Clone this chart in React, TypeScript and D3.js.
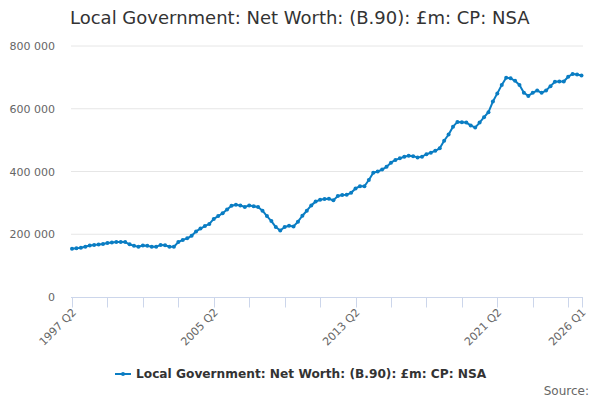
import { useEffect, useRef } from "react";
import * as d3 from "d3";

const TITLE = "Local Government: Net Worth: (B.90): £m: CP: NSA";

// £m, one point per quarter from 1997 Q2 to 2026 Q1
const netWorth = [
  154000, 155000, 157000, 160000, 164000, 166000, 167000, 169000, 172000, 174000,
  175000, 175000, 175000, 168000, 163000, 160000, 164000, 163000, 160000, 160000,
  166000, 165000, 160000, 160000, 175000, 182000, 187000, 195000, 209000, 218000,
  226000, 233000, 249000, 258000, 267000, 279000, 291000, 294000, 292000, 287000,
  292000, 289000, 287000, 275000, 258000, 242000, 223000, 212000, 223000, 227000,
  225000, 240000, 259000, 275000, 292000, 304000, 310000, 312000, 313000, 308000,
  322000, 325000, 326000, 332000, 346000, 353000, 353000, 373000, 396000, 400000,
  406000, 415000, 428000, 437000, 442000, 447000, 450000, 449000, 445000, 447000,
  455000, 460000, 466000, 474000, 498000, 518000, 543000, 558000, 557000, 556000,
  547000, 540000, 556000, 573000, 589000, 623000, 649000, 676000, 699000, 697000,
  689000, 676000, 651000, 641000, 651000, 658000, 651000, 658000, 672000, 686000,
  687000, 687000, 702000, 711000, 709000, 706000,
];

const quarters: string[] = [];
for (let i = 0; i < netWorth.length; i++) {
  const q = 1 + i; // 1997 Q2 is the first
  quarters.push(`${1997 + Math.floor(q / 4)} Q${(q % 4) + 1}`);
}

const yTicks = [0, 200000, 400000, 600000, 800000];
const xLabels = ["1997 Q2", "2005 Q2", "2013 Q2", "2021 Q2", "2026 Q1"];

const font = "'DejaVu Sans', sans-serif";
const lineColor = "#0a7dc3";

const App = () => {
  const ref = useRef<SVGSVGElement | null>(null);

  useEffect(() => {
    const svg = d3.select(ref.current);
    svg.selectAll("*").remove();

    const x = d3
      .scaleLinear()
      .domain([0, quarters.length - 1])
      .range([72, 581.5]);
    const y = d3.scaleLinear().domain([0, 800000]).range([297, 46]);

    svg
      .append("text")
      .attr("x", 70)
      .attr("y", 24)
      .attr("fill", "#333333")
      .style("font-size", "18px")
      .style("font-family", font)
      .text(TITLE);

    // grid + y labels
    const grid = svg.append("g");
    yTicks.forEach((t) => {
      if (t > 0) {
        grid
          .append("line")
          .attr("x1", 71)
          .attr("x2", 583)
          .attr("y1", y(t))
          .attr("y2", y(t))
          .attr("stroke", "#e6e6e6")
          .attr("stroke-width", 1);
      }
      grid
        .append("text")
        .attr("x", 55)
        .attr("y", y(t) + 4)
        .attr("text-anchor", "end")
        .attr("fill", "#666666")
        .style("font-size", "11px")
        .style("font-family", font)
        .text(d3.format(",")(t).replace(/,/g, " "));
    });

    // x axis
    const axis = svg.append("g");
    axis
      .append("line")
      .attr("x1", 71)
      .attr("x2", 583)
      .attr("y1", 297.5)
      .attr("y2", 297.5)
      .attr("stroke", "#ccd6eb");
    const tickIdx = d3.range(0, quarters.length, 8).concat([quarters.length - 1]);
    tickIdx.forEach((i) => {
      axis
        .append("line")
        .attr("x1", Math.round(x(i)) + 0.5)
        .attr("x2", Math.round(x(i)) + 0.5)
        .attr("y1", 297.5)
        .attr("y2", 307.5)
        .attr("stroke", "#ccd6eb");
    });
    xLabels.forEach((lab) => {
      const i = quarters.indexOf(lab);
      const px = x(i) + 5;
      const py = 313;
      axis
        .append("text")
        .attr("transform", `translate(${px},${py}) rotate(-45)`)
        .attr("text-anchor", "end")
        .attr("fill", "#666666")
        .style("font-size", "11px")
        .style("font-family", font)
        .text(lab);
    });

    // series
    const line = d3
      .line<number>()
      .x((_, i) => x(i))
      .y((d) => y(d));
    svg
      .append("path")
      .attr("d", line(netWorth) as string)
      .attr("fill", "none")
      .attr("stroke", lineColor)
      .attr("stroke-width", 2)
      .attr("stroke-linejoin", "round");
    svg
      .append("g")
      .selectAll("circle")
      .data(netWorth)
      .enter()
      .append("circle")
      .attr("cx", (_, i) => x(i))
      .attr("cy", (d) => y(d))
      .attr("r", 2)
      .attr("fill", lineColor);

    // legend
    const legend = svg.append("g");
    legend
      .append("line")
      .attr("x1", 115)
      .attr("x2", 131)
      .attr("y1", 374)
      .attr("y2", 374)
      .attr("stroke", lineColor)
      .attr("stroke-width", 2);
    legend
      .append("circle")
      .attr("cx", 123)
      .attr("cy", 374)
      .attr("r", 2)
      .attr("fill", lineColor);
    legend
      .append("text")
      .attr("x", 136)
      .attr("y", 378)
      .attr("fill", "#333333")
      .style("font-size", "12.2px")
      .style("font-weight", "bold")
      .style("font-family", font)
      .text(TITLE);

    svg
      .append("text")
      .attr("x", 589)
      .attr("y", 395)
      .attr("text-anchor", "end")
      .attr("fill", "#666666")
      .style("font-size", "12px")
      .style("font-family", font)
      .text("Source:");
  }, []);

  return (
    <svg
      ref={ref}
      width={600}
      height={400}
      style={{ position: "absolute", left: 0, top: 0, background: "#ffffff" }}
    />
  );
};

export default App;
